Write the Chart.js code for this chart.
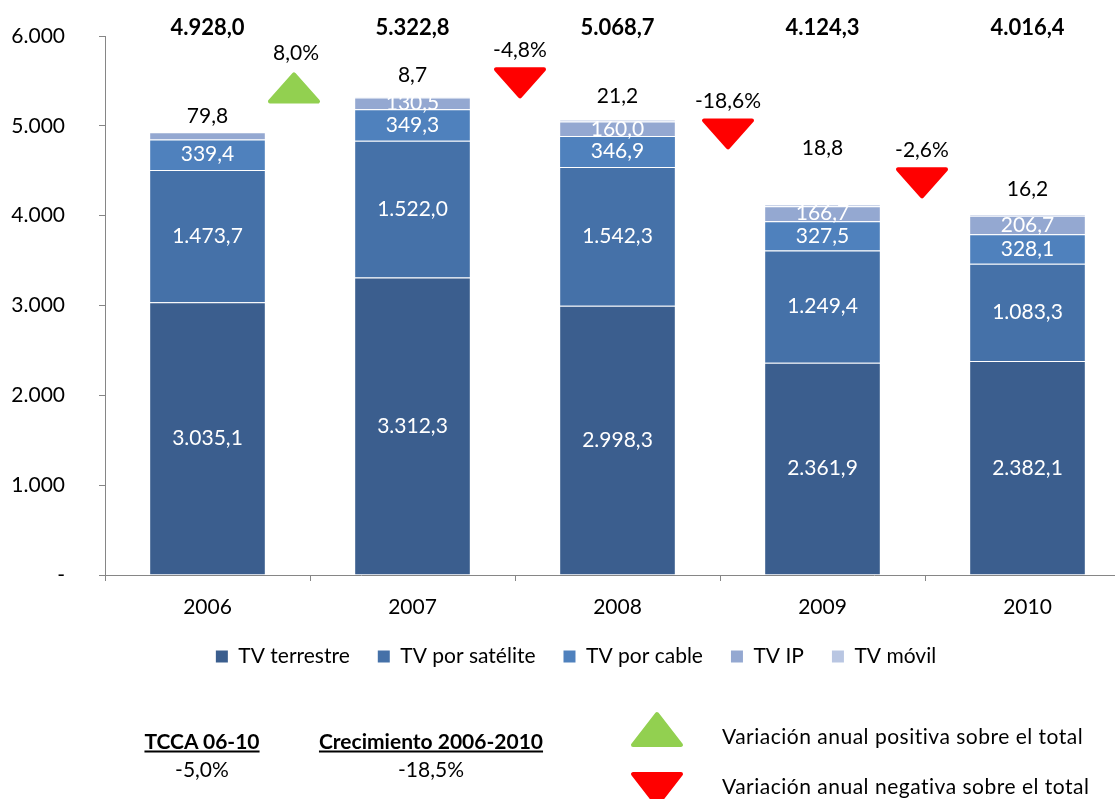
<!DOCTYPE html>
<html><head><meta charset="utf-8">
<script src="https://cdn.jsdelivr.net/npm/chart.js@4.4.1/dist/chart.umd.min.js"></script>
<style>
html,body{margin:0;padding:0;width:1115px;height:799px;overflow:hidden;background:#fff;font-family:Lato,sans-serif;}
#wrap{position:absolute;left:0;top:0;width:1140px;height:799px;}
.note{position:absolute;font-size:21px;color:#000;white-space:nowrap;transform:translate(-50%,-50%);}
.head{font-weight:bold;text-decoration:underline;}
.leg{position:absolute;font-size:21px;color:#000;white-space:nowrap;transform:translateY(-50%);letter-spacing:0.5px;}
svg.tri{position:absolute;}
</style></head><body>
<div id="wrap"><canvas id="c" width="1140" height="799"></canvas></div>
<div class="note head" style="left:202px;top:740px">TCCA 06-10</div>
<div class="note" style="left:202px;top:768px">-5,0%</div>
<div class="note head" style="left:431px;top:740px">Crecimiento 2006-2010</div>
<div class="note" style="left:431px;top:768px">-18,5%</div>
<svg class="tri" style="left:630px;top:711px" width="54" height="37"><polygon points="27,3 51,34 3,34" fill="#92D050" stroke="#92D050" stroke-width="4" stroke-linejoin="round"/></svg>
<div class="leg" style="left:722px;top:735px">Variación anual positiva sobre el total</div>
<svg class="tri" style="left:630px;top:771px" width="54" height="37"><polygon points="3,3 51,3 27,34" fill="#FF0000" stroke="#FF0000" stroke-width="4" stroke-linejoin="round"/></svg>
<div class="leg" style="left:722px;top:785px">Variación anual negativa sobre el total</div>
<script>
// ---- data ----
const years = ['2006', '2007', '2008', '2009', '2010'];
const tvTerrestre = [3035.1, 3312.3, 2998.3, 2361.9, 2382.1];
const tvSatelite  = [1473.7, 1522.0, 1542.3, 1249.4, 1083.3];
const tvCable     = [339.4, 349.3, 346.9, 327.5, 328.1];
const tvIP        = [79.8, 130.5, 160.0, 166.7, 206.7];
const tvMovil     = [0, 8.7, 21.2, 18.8, 16.2];
const totals      = [4928.0, 5322.8, 5068.7, 4124.3, 4016.4];
const variacionAnual = ['8,0%', '-4,8%', '-18,6%', '-2,6%'];
const yTickValues = [0, 1000, 2000, 3000, 4000, 5000, 6000];
const seriesNames = ['TV terrestre', 'TV por satélite', 'TV por cable', 'TV IP', 'TV móvil'];

// ---- styling / layout (not data) ----
const seriesColors = ['#3B5E8E', '#4571A8', '#4F81BD', '#94A8D1', '#B9C6E2'];
const outsideLift = [16, 22, 23, 56, 25];
const markerTop = [5595, 5651, 5083, 4538];
const markerDx = [-16, 5, 8, -3];
const FONT = 'Lato, sans-serif';

function fmt(v) {
  const s = v.toFixed(1).split('.');
  return s[0].replace(/\B(?=(\d{3})+(?!\d))/g, '.') + ',' + s[1];
}
function fmtTick(v) {
  if (v === 0) return '-';
  return String(v).replace(/\B(?=(\d{3})+(?!\d))/g, '.');
}

const seriesData = [tvTerrestre, tvSatelite, tvCable, tvIP, tvMovil];

const legendShift = {
  id: 'legendShift',
  afterLayout(chart) {
    if (chart.legend) { chart.legend.left += 9; chart.legend.right += 9; }
  }
};

const labelPlugin = {
  id: 'labels',
  afterDatasetsDraw(chart) {
    const ctx = chart.ctx;
    const y = chart.scales.y, x = chart.scales.x;
    ctx.save();
    ctx.textAlign = 'center';
    ctx.textBaseline = 'middle';
    ctx.font = '21px ' + FONT;
    chart.data.datasets.forEach((ds, di) => {
      const meta = chart.getDatasetMeta(di);
      meta.data.forEach((bar, i) => {
        const v = ds.data[i];
        if (!v) return;
        if (v < 100) {
          ctx.fillStyle = '#000';
          ctx.fillText(fmt(v), bar.x, y.getPixelForValue(totals[i]) - outsideLift[i]);
        } else {
          ctx.fillStyle = '#fff';
          ctx.fillText(fmt(v), bar.x, (bar.y + bar.base) / 2);
        }
      });
    });
    // totals
    ctx.font = 'bold 22px ' + FONT;
    ctx.fillStyle = '#000';
    totals.forEach((t, i) => {
      ctx.fillText(fmt(t), x.getPixelForValue(i), chart.chartArea.top - 8);
    });
    // annual variation markers
    ctx.lineJoin = 'round';
    ctx.lineWidth = 4;
    variacionAnual.forEach((txt, i) => {
      const cx = (x.getPixelForValue(i) + x.getPixelForValue(i + 1)) / 2 + markerDx[i];
      const top = y.getPixelForValue(markerTop[i]);
      const pos = txt.charAt(0) !== '-';
      const col = pos ? '#92D050' : '#FF0000';
      ctx.fillStyle = col; ctx.strokeStyle = col;
      ctx.beginPath();
      if (pos) {
        ctx.moveTo(cx, top + 2); ctx.lineTo(cx + 24, top + 29); ctx.lineTo(cx - 24, top + 29);
      } else {
        ctx.moveTo(cx - 24, top + 2); ctx.lineTo(cx + 24, top + 2); ctx.lineTo(cx, top + 29);
      }
      ctx.closePath(); ctx.fill(); ctx.stroke();
      ctx.fillStyle = '#000';
      ctx.font = '21px ' + FONT;
      ctx.fillText(txt, cx + (pos ? 2 : 0), top - (pos ? 19 : 17));
    });
    ctx.restore();
  }
};

Chart.defaults.font.family = FONT;
Chart.defaults.font.size = 21;
Chart.defaults.color = '#000';

new Chart(document.getElementById('c'), {
  type: 'bar',
  data: {
    labels: years,
    datasets: seriesNames.map((n, k) => ({
      label: n,
      data: seriesData[k],
      backgroundColor: seriesColors[k],
      borderColor: 'rgba(255,255,255,0.35)',
      borderWidth: {top: 1, left: 0, right: 0, bottom: 0},
      borderSkipped: 'start',
      barPercentage: 0.56,
      categoryPercentage: 1.0
    }))
  },
  options: {
    responsive: false,
    animation: false,
    layout: {padding: {left: 4, right: 10, top: 36, bottom: 122}},
    plugins: {
      tooltip: {enabled: false},
      legend: {
        position: 'bottom',
        labels: {
          boxWidth: 12, boxHeight: 12, padding: 28,
          font: {size: 21, family: FONT}, color: '#000',
          generateLabels(chart) {
            return chart.data.datasets.map((d, i) => ({
              text: d.label, fillStyle: d.backgroundColor, strokeStyle: d.backgroundColor,
              lineWidth: 0, hidden: false, datasetIndex: i
            }));
          }
        }
      }
    },
    scales: {
      x: {
        stacked: true,
        grid: {display: true, drawOnChartArea: false, drawTicks: true, tickLength: 6, color: '#868686', offset: true},
        border: {display: true, color: '#868686', width: 1},
        ticks: {padding: 14, font: {size: 21}, color: '#000'},
        afterFit(s) { s.height = 43; }
      },
      y: {
        stacked: true,
        min: 0, max: 6000,
        afterBuildTicks(s) { s.ticks = yTickValues.map(v => ({value: v})); },
        grid: {display: true, drawOnChartArea: false, drawTicks: true, tickLength: 6, color: '#868686'},
        border: {display: true, color: '#868686', width: 1},
        ticks: {padding: 34, font: {size: 21}, color: '#000', callback: (v) => fmtTick(v)},
        afterFit(s) { s.width = 101; s.paddingTop = 0; s.paddingBottom = 0; }
      }
    }
  },
  plugins: [labelPlugin, legendShift]
});
</script>
</body></html>
